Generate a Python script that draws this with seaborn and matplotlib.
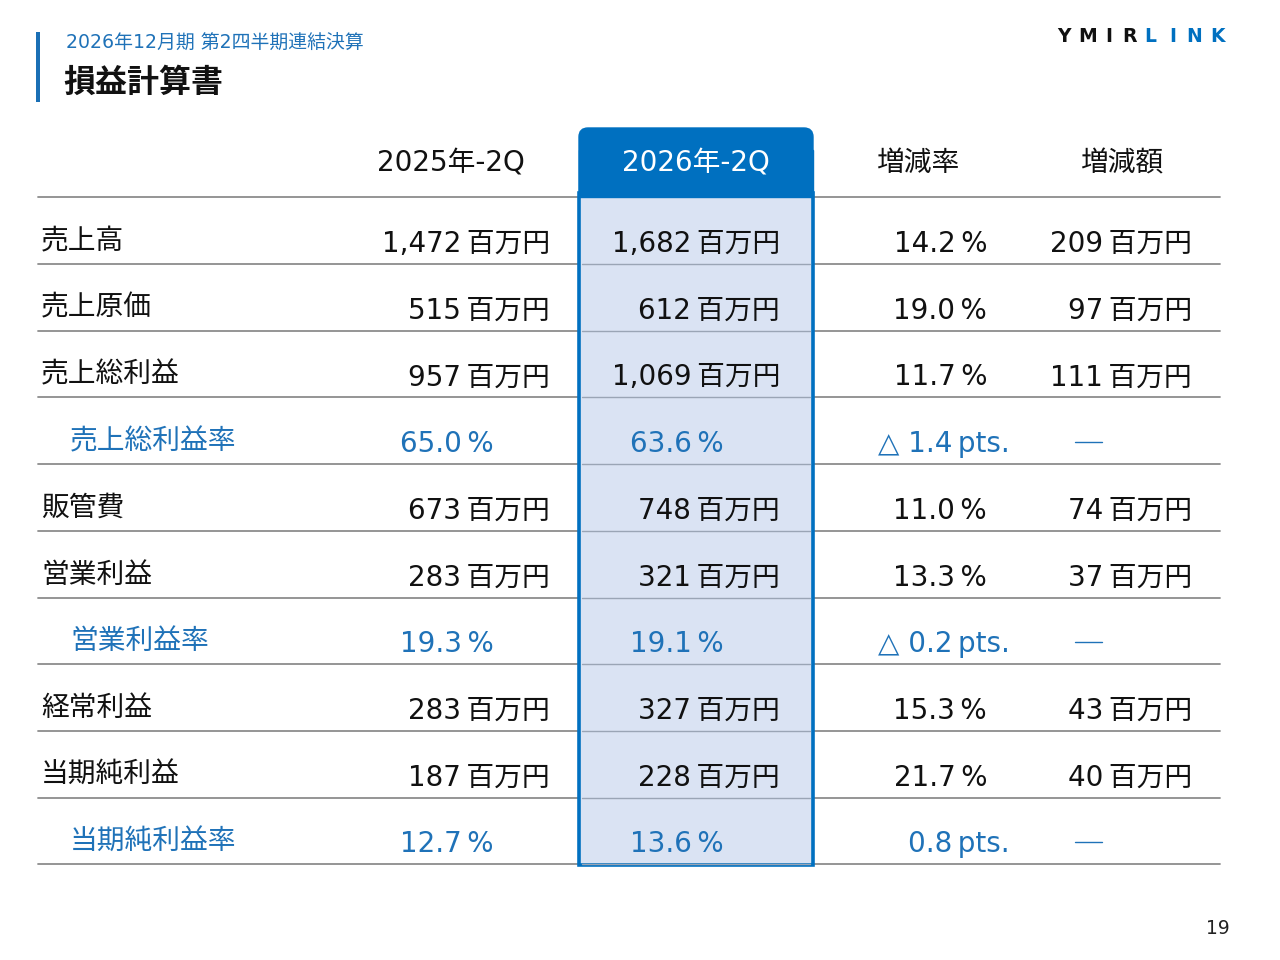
import matplotlib
matplotlib.use("Agg")
import matplotlib.pyplot as plt
from matplotlib.patches import FancyBboxPatch, Rectangle
import seaborn as sns

# ---- data ----
items = ["売上高", "売上原価", "売上総利益", "売上総利益率", "販管費",
         "営業利益", "営業利益率", "経常利益", "当期純利益", "当期純利益率"]
is_ratio = [False, False, False, True, False, False, True, False, False, True]
prev_vals = [1472, 515, 957, 65.0, 673, 283, 19.3, 283, 187, 12.7]
curr_vals = [1682, 612, 1069, 63.6, 748, 321, 19.1, 327, 228, 13.6]
change_rate = [14.2, 19.0, 11.7, -1.4, 11.0, 13.3, -0.2, 15.3, 21.7, 0.8]
change_amt = [209, 97, 111, None, 74, 37, None, 43, 40, None]
col_headers = ["2025年-2Q", "2026年-2Q", "増減率", "増減額"]
subtitle = "2026年12月期 第2四半期連結決算"
title = "損益計算書"
page_no = "19"

sns.set_theme(style="white")
plt.rcParams['font.family'] = ['Noto Sans CJK JP', 'DejaVu Sans']
MIX = ['DejaVu Sans', 'Noto Sans CJK JP']

BLUE = "#0070c0"
TXT_BLUE = "#1f72b8"
LIGHT = "#dae3f3"
GRAY = "#8c8c8c"
INK = "#111111"
FS = 20
TS = "\u2009"  # thin space (DejaVu Sans has it)

fig = plt.figure(figsize=(12.8, 9.6), dpi=100)
ax = fig.add_axes([0, 0, 1, 1])
ax.set_xlim(0, 1280)
ax.set_ylim(960, 0)
ax.axis("off")

# header area
ax.add_patch(Rectangle((36, 32), 4, 70, color="#1a6fb5", lw=0))
ax.text(66, 42, subtitle, fontsize=13.6, color=TXT_BLUE, va="center", ha="left", family=MIX)
ax.text(63, 83, title, fontsize=23, fontweight="bold", color=INK, va="center", ha="left")

# logo
logo = "YMIRLINK"
logo_x = [1064, 1088, 1109, 1130, 1150, 1173, 1194, 1218]
for ch, x, c in zip(logo, logo_x, [INK] * 4 + [BLUE] * 4):
    ax.text(x, 37, ch, fontsize=13.5, fontweight="bold", color=c, ha="center", va="center",
            family="DejaVu Sans")

# highlighted column
x0, x1 = 579, 813
top_y, head_bot, bot_y = 128, 197, 865
ax.add_patch(FancyBboxPatch((x0, top_y), x1 - x0, 72, boxstyle="round,pad=0,rounding_size=9",
                            fc=BLUE, ec=BLUE, lw=1, zorder=2))
ax.add_patch(Rectangle((x0, head_bot - 4), x1 - x0, bot_y - head_bot + 4,
                       fc=LIGHT, ec=BLUE, lw=2.6, zorder=3))
ax.add_patch(Rectangle((x0, 150), x1 - x0, head_bot - 150, fc=BLUE, ec=BLUE, lw=1, zorder=3.2))

# column headers
col_centers = [451, 696, 918, 1122]
for i, (h, xc) in enumerate(zip(col_headers, col_centers)):
    ax.text(xc, 163, h, fontsize=FS, ha="center", va="center", family=MIX,
            color="white" if i == 1 else INK, zorder=5)

# lines
row_h = 66.7
first_line = 264
ax.plot([38, 1220], [197, 197], color=GRAY, lw=1.3, zorder=2.5)
for i in range(len(items)):
    yl = first_line + i * row_h
    ax.plot([38, 1220], [yl, yl], color=GRAY, lw=1.3, zorder=2.5)
    ax.plot([x0 + 3, x1 - 3], [yl, yl], color="#9aa5b5", lw=1.0, zorder=3.5)

def fmt_amt(v):
    return f"{v:,}{TS}百万円"

kw = dict(fontsize=FS, va="center", zorder=5, family=MIX)
for i, name in enumerate(items):
    yl = first_line + i * row_h
    ylab = yl - 23
    yval = yl - 20
    if is_ratio[i]:
        ax.text(70, ylab, name, color=TXT_BLUE, ha="left", **kw)
        ax.text(494, yval, f"{prev_vals[i]:.1f}{TS}%", color=TXT_BLUE, ha="right", **kw)
        ax.text(724, yval, f"{curr_vals[i]:.1f}{TS}%", color=TXT_BLUE, ha="right", **kw)
        r = change_rate[i]
        s = (f"△ {abs(r):.1f}{TS}pts." if r < 0 else f"{r:.1f}{TS}pts.")
        ax.text(1010, yval, s, color=TXT_BLUE, ha="right", **kw)
        ax.plot([1075, 1102], [yval - 2, yval - 2], color=TXT_BLUE, lw=1.0, zorder=5)
    else:
        ax.text(41, ylab, name, color=INK, ha="left", **kw)
        ax.text(550, yval, fmt_amt(prev_vals[i]), color=INK, ha="right", **kw)
        ax.text(780, yval, fmt_amt(curr_vals[i]), color=INK, ha="right", **kw)
        ax.text(987, yval, f"{change_rate[i]:.1f}{TS}%", color=INK, ha="right", **kw)
        ax.text(1192, yval, fmt_amt(change_amt[i]), color=INK, ha="right", **kw)

ax.text(1230, 929, page_no, fontsize=13.5, color="#222222", ha="right", va="center", family="DejaVu Sans")

fig.savefig("out.png", dpi=100, facecolor="white")
